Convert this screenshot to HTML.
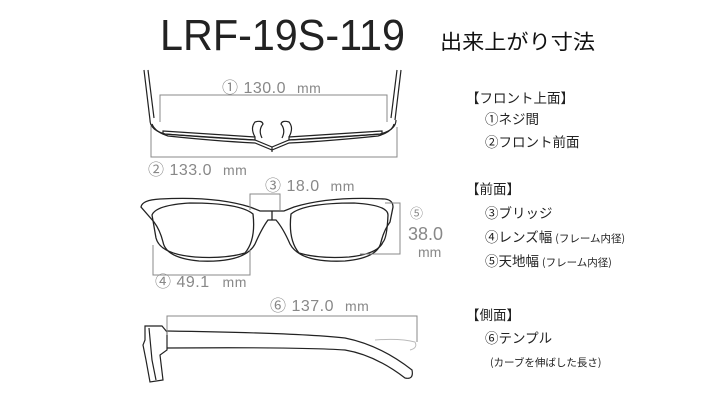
<!DOCTYPE html>
<html><head><meta charset="utf-8"><style>
html,body{margin:0;padding:0;background:#fff}
svg{display:block}
.t{font-family:"Liberation Sans","Noto Sans CJK JP",sans-serif}
.g{fill:#888}
.k{fill:#222}
</style></head><body>
<svg width="714" height="400" viewBox="0 0 714 400" xmlns="http://www.w3.org/2000/svg" class="t">
<text x="160" y="50" font-size="44" textLength="245" lengthAdjust="spacingAndGlyphs" fill="#222">LRF-19S-119</text>
<text x="440" y="49" font-size="20.5" textLength="155" lengthAdjust="spacingAndGlyphs" fill="#111" font-family="Noto Sans CJK JP, sans-serif">出来上がり寸法</text>

<!-- top view -->
<g fill="none" stroke="#222" stroke-width="1.2">
<path d="M144 70 L150 120 M148 70 L154 118"/>
<path d="M401 70 L395 120 M397 70 L391 118"/>
<path d="M150 120 Q150 130 165 134 Q215 138 255 140 L272 147 L289 140 Q330 138 380 134 Q396 130 396 120"/>
<path d="M152 124 Q155 132 168 136 Q215 141 255 143 L272 150 L289 143 Q330 141 378 136 Q392 132 394 124"/>
<path d="M163 131 L255 137 L255 140 L163 134 Z M382 131 L289 137 L289 140 L382 134 Z"/>
<path d="M255 137 Q250 128 255 122 Q262 120 263 124 Q258 130 262 138 M289 137 Q294 128 289 122 Q282 120 281 124 Q286 130 282 138"/>
<path d="M272 147 L272 152"/>
</g>
<g fill="none" stroke="#888" stroke-width="1">
<path d="M160 122 V95 H387 V122"/>
<path d="M151 126 V157 H397 V127"/>
</g>
<text x="222" y="93" font-size="16" class="g" letter-spacing="0.5">① 130.0 <tspan font-size="14" dx="6">mm</tspan></text>
<text x="148" y="175" font-size="16" class="g" letter-spacing="0.5">② 133.0 <tspan font-size="14" dx="6">mm</tspan></text>

<!-- front view -->
<g fill="none" stroke="#222" stroke-width="1.3">
<path d="M141 207 Q142 200 160 199 Q215 196 250 207 L260 211 L284 211 L294 207 Q330 196 385 199 Q393 200 393 207 L390 222 Q384 230 381 242 Q378 258 345 261 Q300 263 290 244 Q283 228 276 220 L268 220 Q262 228 255 244 Q245 263 199 261 Q166 258 163 242 Q160 230 154 222 Z"/>
<path d="M152 215 Q156 205 190 203 Q240 203 253 214 Q256 240 245 253 Q225 259 195 257 Q160 254 156 238 Z"/>
<path d="M291 214 Q304 203 354 203 Q388 205 388 215 Q387 238 383 242 Q378 254 349 257 Q319 259 299 253 Q288 240 291 214 Z"/>
<path d="M272 211 V220"/>
</g>
<g fill="none" stroke="#888" stroke-width="1">
<path d="M250 210 V194 H280 V210"/>
<path d="M153 245 V275 H250 V250"/>
<path d="M385 203 H400 V254 H360"/>
</g>
<text x="265" y="191" font-size="16" class="g" letter-spacing="0.5">③ 18.0 <tspan font-size="14" dx="6">mm</tspan></text>
<text x="155" y="287" font-size="16" class="g" letter-spacing="0.5">④  49.1 <tspan font-size="14" dx="8">mm</tspan></text>
<text x="410" y="218" font-size="13" class="g">⑤</text>
<text x="408" y="240" font-size="18" class="g">38.0</text>
<text x="418" y="257" font-size="14" class="g">mm</text>

<!-- side view -->
<g fill="none" stroke="#222" stroke-width="1.2">
<path d="M145 326 L162 326 L167 332 L167 350 L160 355 L163 380 L150 382 L146 360 L143 345 L145 340 Z"/>
<path d="M149 328 L152 360 L156 380"/>
<path d="M167 331 Q300 333 345 338 Q380 345 412 370 Q414 380 405 378 Q375 355 345 350 Q300 347 167 348"/>
</g>
<path d="M375 340 Q400 338 415 342 Q418 348 410 350" fill="none" stroke="#bbb" stroke-width="1"/>
<path d="M167 335 V316 H417 V342" fill="none" stroke="#888" stroke-width="1"/>
<text x="270" y="311" font-size="16" class="g" letter-spacing="0.5">⑥ 137.0 <tspan font-size="14" dx="6">mm</tspan></text>

<!-- legend -->
<g font-size="13.5" class="k" font-family="Noto Sans CJK JP, sans-serif">
<text x="466" y="103">【フロント上面】</text>
<text x="485" y="124">①ネジ間</text>
<text x="485" y="147">②フロント前面</text>
<text x="466" y="194">【前面】</text>
<text x="485" y="218">③ブリッジ</text>
<text x="485" y="242">④レンズ幅 <tspan font-size="10.5">(フレーム内径)</tspan></text>
<text x="485" y="266">⑤天地幅 <tspan font-size="10.5">(フレーム内径)</tspan></text>
<text x="466" y="320">【側面】</text>
<text x="485" y="343">⑥テンプル</text>
<text x="490" y="366" font-size="10.5">(カーブを伸ばした長さ)</text>
</g>
</svg>
</body></html>
